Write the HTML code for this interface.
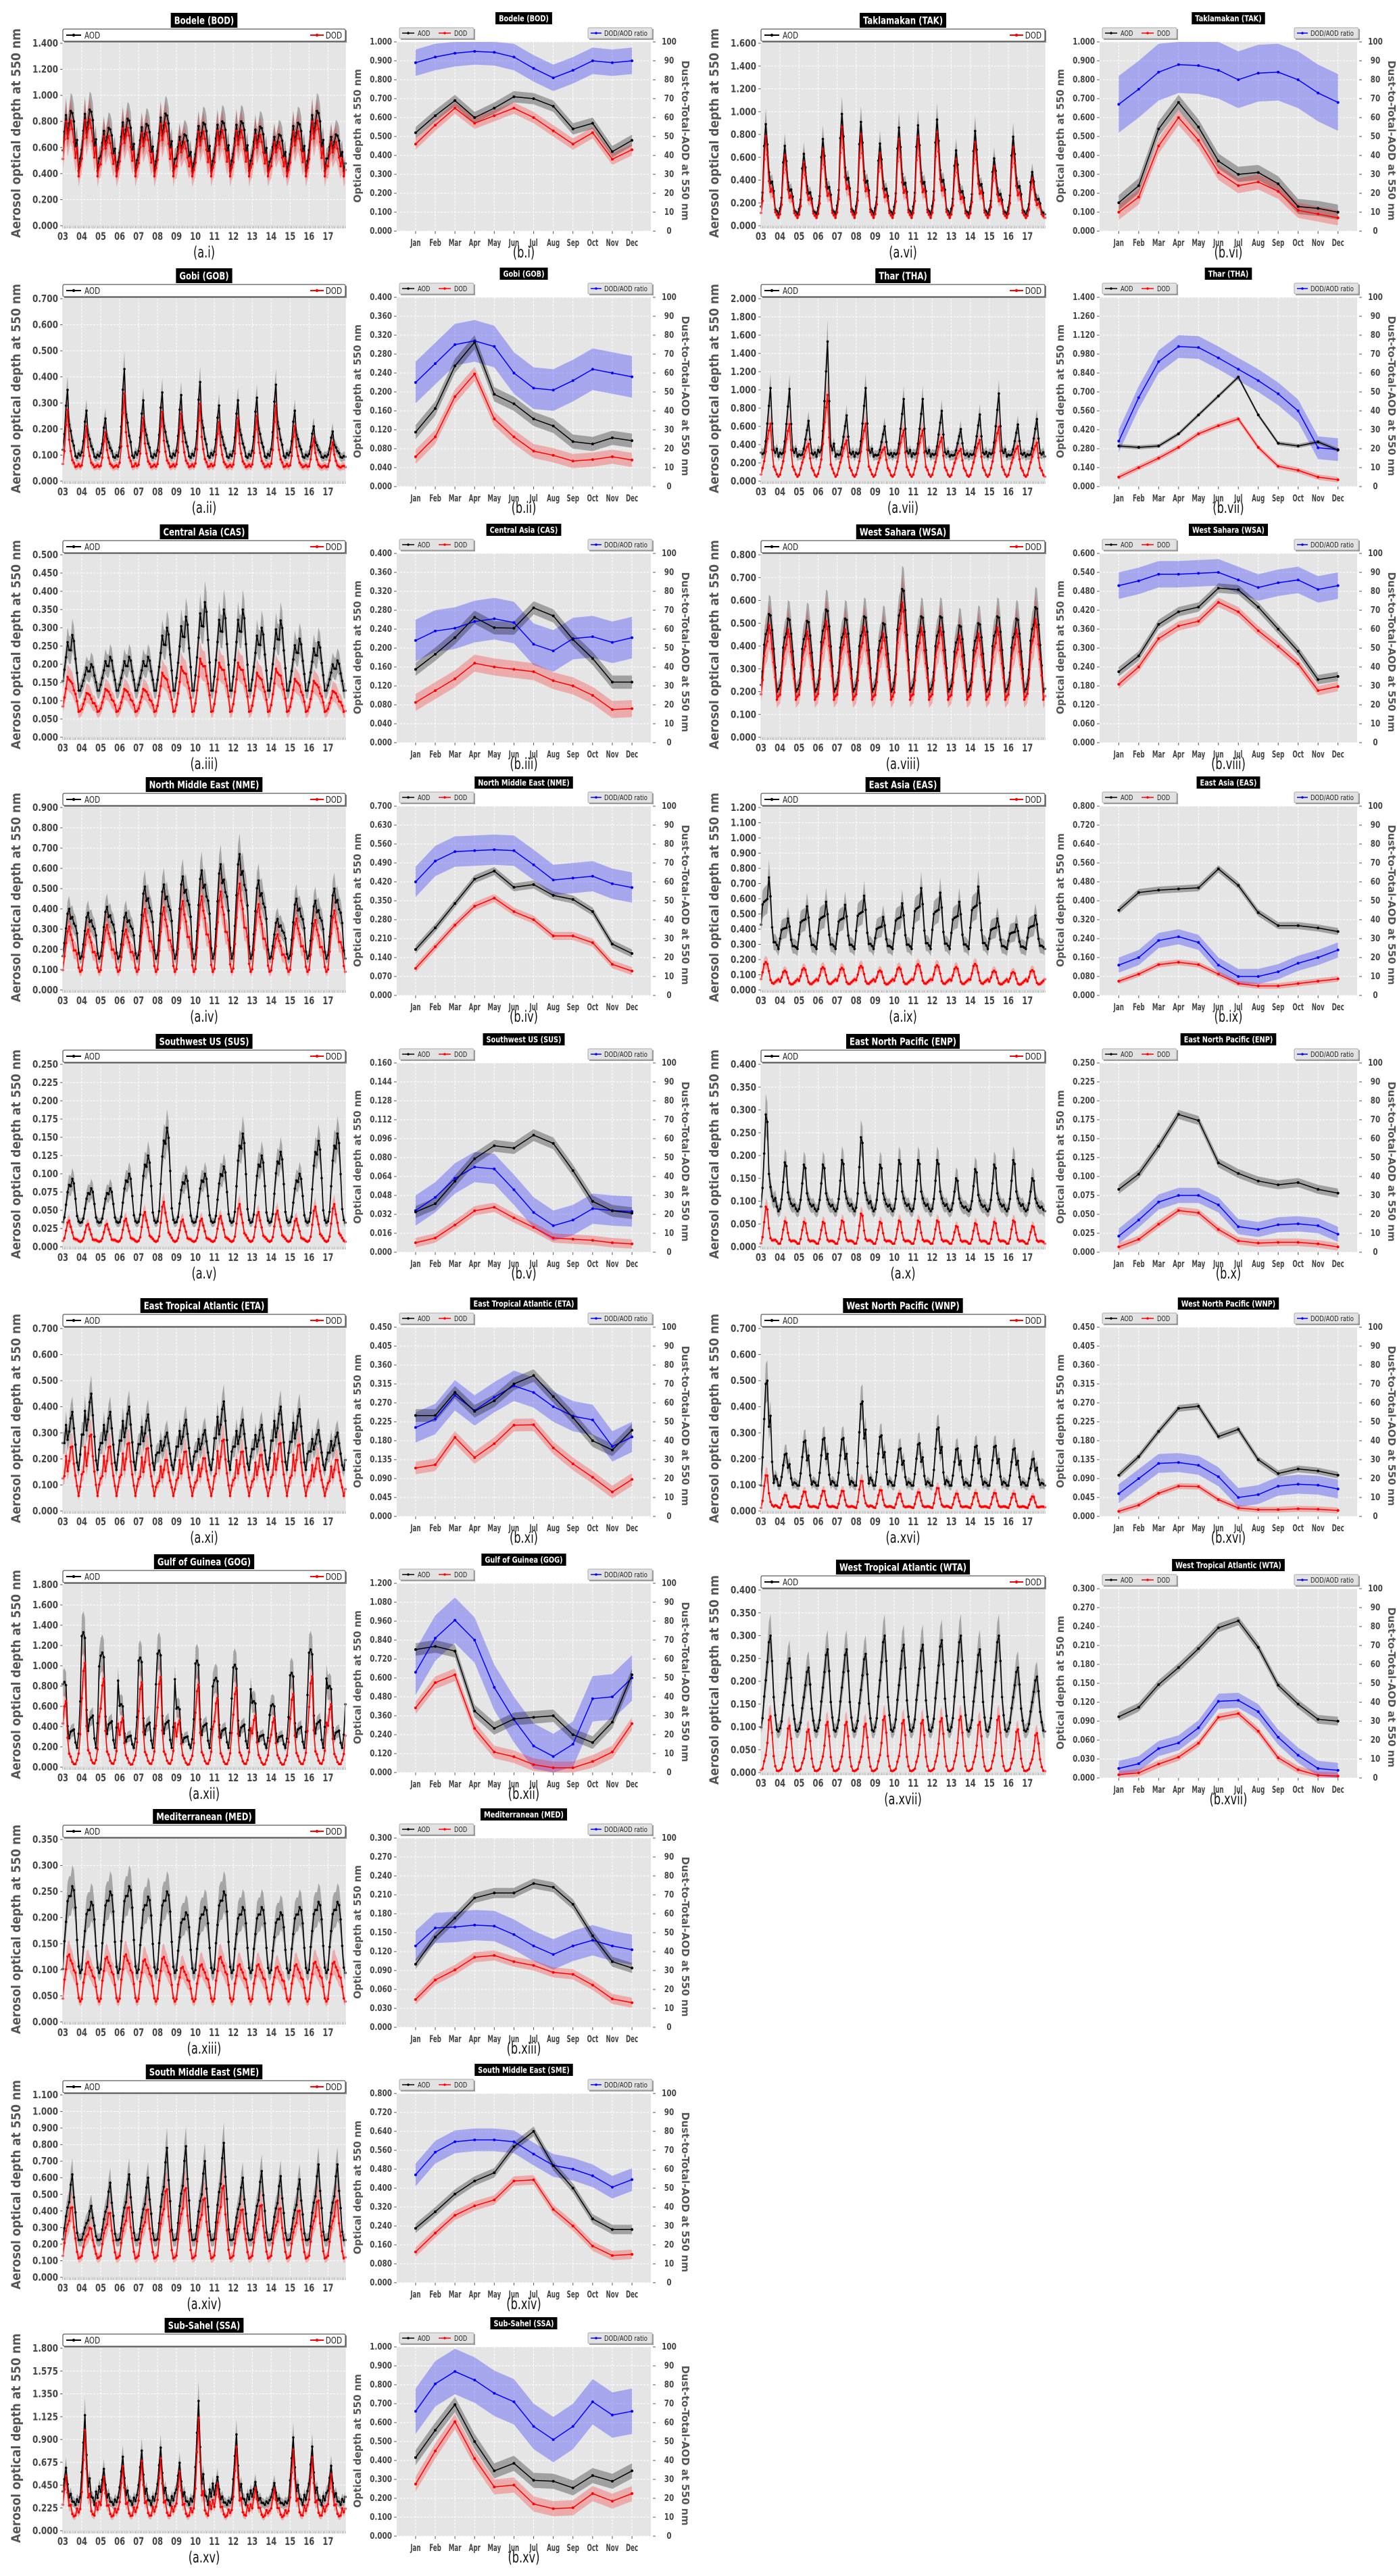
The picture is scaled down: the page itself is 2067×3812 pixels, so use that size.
<!DOCTYPE html>
<html><head><meta charset="utf-8"><style>
html,body{margin:0;padding:0;background:#fff;}
svg{display:block;font-family:"DejaVu Sans","Liberation Sans",sans-serif;}
</style></head><body>
<svg id="fig" xmlns="http://www.w3.org/2000/svg" width="2067" height="3812" viewBox="0 0 2067 3812"><rect width="2067" height="3812" fill="#fff"/></svg>
<script>
const months = ["Jan","Feb","Mar","Apr","May","Jun","Jul","Aug","Sep","Oct","Nov","Dec"];
const yearLabels = ["03","04","05","06","07","08","09","10","11","12","13","14","15","16","17"];
const ratioTicks = [0,10,20,30,40,50,60,70,80,90,100];

const bodAod=[.52,.61,.69,.60,.65,.71,.70,.66,.54,.57,.42,.48];
const bodDod=[.46,.56,.65,.57,.61,.65,.60,.53,.46,.52,.38,.43];
const bodRat=[89,92,94,95,94.5,92,86,81,85,90,89,90];
const bodPeaks=[.88,.89,.75,.82,.78,.86,.70,.79,.80,.80,.76,.70,.79,.88,.70];

const takAod=[.15,.24,.54,.68,.55,.37,.30,.31,.25,.13,.12,.10];
const takDod=[.10,.18,.45,.60,.48,.31,.24,.26,.21,.11,.09,.07];
const takRat=[67,75,84,88,87.5,85,80,83.5,84,80,73,68];
const takPeaks=[.89,.70,.63,.76,.98,.91,.72,.86,.88,.93,.66,.83,.59,.78,.47];

const gobAod=[.115,.165,.255,.305,.195,.175,.143,.128,.095,.090,.103,.097];
const gobDod=[.063,.105,.19,.238,.143,.105,.075,.066,.054,.057,.063,.056];
const gobRat=[55,65,75,77,74,60,52,51,56,62,60,58];
const gobPeaks=[.35,.27,.24,.43,.31,.34,.33,.38,.29,.31,.32,.37,.27,.21,.19];

const thaAod=[.30,.29,.30,.39,.53,.67,.81,.53,.32,.30,.33,.27];
const thaDod=[.07,.14,.21,.29,.39,.45,.50,.29,.15,.12,.07,.05];
const thaRat=[24,47,66,74,73.5,68,62,56,49,40,20.5,19.5];
const thaPeaks=[1.02,1.01,.66,1.53,.72,1.02,.60,.90,.90,.77,.57,.73,.96,.62,.68];

const casAod=[.155,.187,.222,.265,.243,.242,.285,.268,.218,.178,.128,.128];
const casDod=[.085,.11,.135,.168,.16,.155,.15,.131,.12,.10,.07,.072];
const casRat=[54,59,60.5,64,65.5,63.5,52,48.5,55,56,53,55.5];
const casPeaks=[.28,.20,.22,.22,.22,.30,.33,.37,.35,.35,.30,.32,.27,.26,.21];

const wsaAod=[.225,.275,.375,.415,.43,.49,.485,.43,.36,.29,.20,.21];
const wsaDod=[.185,.24,.33,.37,.385,.445,.415,.355,.305,.25,.165,.178];
const wsaRat=[83,85.5,89,89,89.5,90,86,82,84.5,86,81,83];
const wsaPeaks=[.54,.52,.51,.56,.52,.53,.50,.65,.53,.53,.49,.50,.53,.52,.57];

const nmeAod=[.17,.25,.34,.43,.46,.40,.41,.37,.355,.31,.19,.155];
const nmeDod=[.10,.18,.26,.33,.36,.31,.28,.22,.22,.195,.115,.09];
const nmeRat=[60,71,76,76.5,77,76.5,69,61,62,63,59,57];
const nmePeaks=[.40,.38,.41,.38,.51,.52,.56,.59,.62,.67,.54,.35,.45,.44,.50];

const easAod=[.36,.435,.445,.45,.455,.535,.465,.35,.295,.295,.285,.27];
const easDod=[.06,.09,.13,.14,.13,.09,.05,.04,.04,.05,.06,.07];
const easRat=[16,20,29,31,28,16,10,10,12.5,17,20,24];
const easPeaks=[.74,.47,.55,.58,.56,.62,.48,.57,.67,.64,.58,.68,.47,.43,.49];

const susAod=[.034,.041,.06,.079,.09,.088,.099,.092,.069,.043,.035,.033];
const susDod=[.008,.012,.023,.035,.038,.029,.021,.012,.011,.010,.008,.007];
const susRat=[22,29,39,45,44,33,21,14,17,23,22,21.5];
const susPeaks=[.093,.08,.08,.10,.125,.163,.097,.10,.11,.155,.125,.13,.10,.145,.155];

const enpAod=[.083,.103,.14,.182,.174,.118,.104,.094,.089,.092,.083,.078];
const enpDod=[.007,.017,.037,.055,.052,.030,.015,.012,.013,.013,.011,.007];
const enpRat=[8.5,17,26.5,30,30,25,13.5,12,14.5,15,14,9.5];
const enpPeaks=[.29,.185,.18,.18,.19,.24,.18,.19,.19,.19,.15,.17,.18,.19,.15];

const etaAod=[.24,.24,.295,.25,.275,.315,.335,.285,.235,.18,.158,.205];
const etaDod=[.115,.123,.188,.14,.173,.217,.218,.163,.125,.093,.058,.088];
const etaRat=[47,51.5,64,56,63,69,65.5,58,53,51,37,42];
const etaPeaks=[.38,.45,.38,.40,.37,.30,.35,.31,.42,.35,.33,.40,.39,.31,.30];

const gogAod=[.78,.80,.77,.39,.28,.34,.35,.36,.24,.19,.32,.62];
const gogDod=[.41,.57,.62,.28,.13,.10,.05,.03,.03,.07,.13,.31];
const gogRat=[53,71,80.5,70,45,28,14,8.5,15,39,40,50];
const gogPeaks=[.84,1.33,1.13,.62,1.08,1.15,.59,1.05,.88,1.01,.65,.62,.93,1.16,.80];

const wnpAod=[.098,.142,.202,.257,.262,.19,.207,.135,.102,.113,.108,.098];
const wnpDod=[.012,.027,.055,.072,.071,.040,.020,.016,.016,.018,.017,.014];
const wnpRat=[12,20,28,28.5,27,21,10,11.5,16,17,16.5,14.5];
const wnpPeaks=[.50,.22,.27,.28,.28,.42,.29,.24,.26,.32,.24,.25,.25,.24,.20];

const wtaAod=[.097,.112,.148,.175,.205,.238,.249,.207,.147,.117,.093,.09];
const wtaDod=[.005,.008,.022,.033,.055,.096,.102,.074,.032,.013,.004,.003];
const wtaRat=[5,7.5,15.5,18.5,26.5,40.5,41,35,21.5,12,5,4];
const wtaPeaks=[.30,.25,.23,.27,.27,.26,.30,.28,.28,.29,.30,.27,.30,.23,.21];

const medAod=[.10,.143,.173,.205,.213,.213,.228,.222,.195,.145,.104,.094];
const medDod=[.044,.075,.091,.111,.114,.104,.098,.087,.084,.067,.045,.039];
const medRat=[43,52.5,53,54,53.5,49,43,38.5,43,46,43,41];
const medPeaks=[.26,.23,.25,.26,.24,.25,.21,.22,.25,.22,.22,.21,.22,.23,.23];

const smeAod=[.23,.30,.375,.43,.465,.575,.64,.495,.40,.27,.225,.225];
const smeDod=[.13,.21,.285,.325,.35,.43,.435,.31,.24,.155,.115,.12];
const smeRat=[57,69,74.5,75.5,75.5,74.5,68,62,60,56.5,50.5,54.5];
const smePeaks=[.62,.43,.57,.62,.60,.78,.79,.70,.81,.60,.64,.61,.59,.68,.68];

const ssaAod=[.415,.56,.695,.50,.345,.385,.295,.29,.255,.32,.29,.345];
const ssaDod=[.275,.45,.605,.41,.26,.27,.17,.145,.15,.225,.185,.225];
const ssaRat=[66,80.5,87,82.5,75.5,71,58,51,58,71,64,66];
const ssaPeaks=[.62,1.14,.61,.73,.79,.82,.67,1.28,.53,.95,.48,.47,.92,.83,.64];

const panels=[
 {t:"Bodele (BOD)",id:"bod",n:"i",col:0,top:64,aMax:1.4,aStep:.2,bMax:1,bStep:.1,aod:bodAod,dod:bodDod,rat:bodRat,pk:bodPeaks,aw:.03,dw:.03,rw:7},
 {t:"Gobi (GOB)",id:"gob",n:"ii",col:0,top:442,aMax:.7,aStep:.1,bMax:.4,bStep:.04,aod:gobAod,dod:gobDod,rat:gobRat,pk:gobPeaks,aw:.015,dw:.015,rw:11},
 {t:"Central Asia (CAS)",id:"cas",n:"iii",col:0,top:821,aMax:.5,aStep:.05,bMax:.4,bStep:.04,aod:casAod,dod:casDod,rat:casRat,pk:casPeaks,aw:.014,dw:.018,rw:11},
 {t:"North Middle East (NME)",id:"nme",n:"iv",col:0,top:1195,aMax:.9,aStep:.1,bMax:.7,bStep:.07,aod:nmeAod,dod:nmeDod,rat:nmeRat,pk:nmePeaks,aw:.015,dw:.015,rw:8},
 {t:"Southwest US (SUS)",id:"sus",n:"v",col:0,top:1575,aMax:.25,aStep:.025,bMax:.16,bStep:.016,aod:susAod,dod:susDod,rat:susRat,pk:susPeaks,aw:.005,dw:.004,rw:8},
 {t:"East Tropical Atlantic (ETA)",id:"eta",n:"xi",col:0,top:1966,aMax:.7,aStep:.1,bMax:.45,bStep:.045,aod:etaAod,dod:etaDod,rat:etaRat,pk:etaPeaks,aw:.015,dw:.015,rw:8},
 {t:"Gulf of Guinea (GOG)",id:"gog",n:"xii",col:0,top:2345,aMax:1.8,aStep:.2,bMax:1.2,bStep:.12,aod:gogAod,dod:gogDod,rat:gogRat,pk:gogPeaks,aw:.04,dw:.04,rw:12},
 {t:"Mediterranean (MED)",id:"med",n:"xiii",col:0,top:2722,aMax:.35,aStep:.05,bMax:.3,bStep:.03,aod:medAod,dod:medDod,rat:medRat,pk:medPeaks,aw:.008,dw:.008,rw:8},
 {t:"South Middle East (SME)",id:"sme",n:"xiv",col:0,top:3100,aMax:1.1,aStep:.1,bMax:.8,bStep:.08,aod:smeAod,dod:smeDod,rat:smeRat,pk:smePeaks,aw:.02,dw:.02,rw:6},
 {t:"Sub-Sahel (SSA)",id:"ssa",n:"xv",col:0,top:3475,aMax:1.8,aStep:.225,bMax:1,bStep:.1,aod:ssaAod,dod:ssaDod,rat:ssaRat,pk:ssaPeaks,aw:.04,dw:.04,rw:12},
 {t:"Taklamakan (TAK)",id:"tak",n:"vi",col:1,top:64,aMax:1.6,aStep:.2,bMax:1,bStep:.1,aod:takAod,dod:takDod,rat:takRat,pk:takPeaks,aw:.04,dw:.04,rw:15},
 {t:"Thar (THA)",id:"tha",n:"vii",col:1,top:442,aMax:2,aStep:.2,bMax:1.4,bStep:.14,aod:thaAod,dod:thaDod,rat:thaRat,pk:thaPeaks,aw:.015,dw:.02,rw:6},
 {t:"West Sahara (WSA)",id:"wsa",n:"viii",col:1,top:821,aMax:.8,aStep:.1,bMax:.6,bStep:.06,aod:wsaAod,dod:wsaDod,rat:wsaRat,pk:wsaPeaks,aw:.015,dw:.015,rw:7},
 {t:"East Asia (EAS)",id:"eas",n:"ix",col:1,top:1195,aMax:1.2,aStep:.1,bMax:.8,bStep:.08,aod:easAod,dod:easDod,rat:easRat,pk:easPeaks,aw:.015,dw:.012,rw:4},
 {t:"East North Pacific (ENP)",id:"enp",n:"x",col:1,top:1575,aMax:.4,aStep:.05,bMax:.25,bStep:.025,aod:enpAod,dod:enpDod,rat:enpRat,pk:enpPeaks,aw:.006,dw:.005,rw:4},
 {t:"West North Pacific (WNP)",id:"wnp",n:"xvi",col:1,top:1966,aMax:.7,aStep:.1,bMax:.45,bStep:.045,aod:wnpAod,dod:wnpDod,rat:wnpRat,pk:wnpPeaks,aw:.008,dw:.007,rw:5},
 {t:"West Tropical Atlantic (WTA)",id:"wta",n:"xvii",col:1,top:2353,aMax:.4,aStep:.05,bMax:.3,bStep:.03,aod:wtaAod,dod:wtaDod,rat:wtaRat,pk:wtaPeaks,aw:.007,dw:.006,rw:4}
];

const NS="http://www.w3.org/2000/svg";
const fig=document.getElementById("fig");
function el(tag,attrs,parent,txt){const e=document.createElementNS(NS,tag);for(const k in attrs)e.setAttribute(k,attrs[k]);if(txt!==undefined)e.textContent=txt;(parent||fig).appendChild(e);return e;}
function pts(xs,ys){return xs.map((x,i)=>x.toFixed(1)+","+ys[i].toFixed(1)).join(" ");}
function narrow(t,f){const w=t.getComputedTextLength();t.setAttribute("textLength",(w*f).toFixed(1));t.setAttribute("lengthAdjust","spacingAndGlyphs");return w*f;}

function titleBox(g,cx,y,h,txt,fs){
  const r=el("rect",{x:cx-50,y:y,width:100,height:h,fill:"#000"},g);
  
  
  const t=el("text",{x:cx,y:y+h/2+fs*0.37,"text-anchor":"middle","font-weight":"bold","font-size":fs,fill:"#fff"},g,txt);
  
  
  const w=narrow(t,0.78)+10;
  r.setAttribute("x",cx-w/2);r.setAttribute("width",w);
}

function drawA(p){
  const g=el("g",{});
  
  
  const L=p.col?1126:93, W=p.col?420:418, T=p.top, H=270;
  const xs=i=>L+i/179*W, ys=v=>T+H-Math.min(v,p.aMax*1.05)/p.aMax*H;
  const bg=el("rect",{x:L,y:T,width:W,height:H,fill:"#e5e5e5"},g);
  
  
  const nt=Math.round(p.aMax/p.aStep);
  for(let k=0;k<=nt;k++){
    const v=k*p.aStep, y=ys(v);
    el("line",{x1:L,x2:L+W,y1:y,y2:y,stroke:"#fff","stroke-dasharray":"3,2","stroke-width":1},g);
    el("line",{x1:L-4,x2:L,y1:y,y2:y,stroke:"#555"},g);
    const t=el("text",{x:L-7,y:y+5,"text-anchor":"end","font-size":15,"font-weight":"bold",fill:"#444"},g,v.toFixed(3));
    
    
    narrow(t,0.8);
  }
  yearLabels.forEach((lab,k)=>{
    const x=xs(k*12);
    el("line",{x1:x,x2:x,y1:T,y2:T+H,stroke:"#fff","stroke-dasharray":"3,2"},g);
    const t=el("text",{x:x,y:T+H+21,"text-anchor":"middle","font-size":16,"font-weight":"bold",fill:"#444"},g,lab);
    
    
    narrow(t,0.72);
  });
  for(let i=0;i<180;i++){const x=xs(i);el("line",{x1:x,x2:x,y1:T+H,y2:T+H+4,stroke:"#777","stroke-width":0.7},g);}
  const aMin=Math.min(...p.aod), aMx=Math.max(...p.aod);
  const aod=[],dod=[];
  for(let y=0;y<15;y++)for(let m=0;m<12;m++){
    const v=aMin+(p.aod[m]-aMin)*(p.pk[y]-aMin)/(aMx-aMin);
    aod.push(v);dod.push(v*p.dod[m]/p.aod[m]);
  }
  const X=aod.map((_,i)=>xs(i));
  function band(vals,frac,fill,name){
    const up=vals.map(v=>ys(v*(1+frac)+0.005*p.aMax)), lo=vals.map(v=>ys(Math.max(0,v*(1-frac)-0.005*p.aMax)));
    const b=el("polygon",{points:pts(X,up)+" "+pts(X.slice().reverse(),lo.slice().reverse()),fill:fill},g);
    
    
  }
  band(aod,0.15,"rgba(0,0,0,0.28)","aod-band");
  band(dod,0.2,"rgba(255,0,0,0.25)","dod-band");
  function line(vals,col,name){
    const l=el("polyline",{points:pts(X,vals.map(ys)),fill:"none",stroke:col,"stroke-width":1.6},g);
    
    
    vals.forEach((v,i)=>el("circle",{cx:X[i],cy:ys(v),r:1.8,fill:col},g));
  }
  line(aod,"#000","aod-line");
  line(dod,"#f00","dod-line");
  el("rect",{x:L,y:T,width:W,height:H,fill:"none",stroke:"#ddd"},g);
  el("rect",{x:L+2,y:T-19,width:W,height:18,fill:"#888"},g);
  const lg=el("rect",{x:L,y:T-21,width:W,height:18,fill:"#fff",stroke:"#333","stroke-width":1,rx:2},g);
  
  
  el("line",{x1:L+5,x2:L+27,y1:T-12,y2:T-12,stroke:"#000","stroke-width":2},g);
  el("circle",{cx:L+16,cy:T-12,r:2.2,fill:"#000"},g);
  const t1=el("text",{x:L+32,y:T-7,"font-size":13,fill:"#222"},g,"AOD");narrow(t1,0.8);
  el("line",{x1:L+W-52,x2:L+W-32,y1:T-12,y2:T-12,stroke:"#f00","stroke-width":2},g);
  el("circle",{cx:L+W-42,cy:T-12,r:2.2,fill:"#f00"},g);
  const t2=el("text",{x:L+W-5,y:T-7,"font-size":13,"text-anchor":"end",fill:"#222"},g,"DOD");narrow(t2,0.8);
  titleBox(g,L+W/2,T-45,22,p.t,15);
  const yl=el("text",{x:0,y:0,transform:`translate(${L-63},${T+133}) rotate(-90)`,"text-anchor":"middle","font-size":19,"font-weight":"bold",fill:"#555",textLength:310,lengthAdjust:"spacingAndGlyphs"},g,"Aerosol optical depth at 550 nm");
  
  
  const cap=el("text",{x:L+W/2,y:T+317,"text-anchor":"middle","font-size":23,fill:"#111"},g,"(a."+p.n+")");
  
  
  narrow(cap,0.7);
}

function drawB(p){
  const g=el("g",{});
  
  
  const L=p.col?1627:587, W=p.col?381:376, T=p.top-2, H=280;
  const xs=m=>L+(m+0.96)/12.92*W, ys=v=>T+H-Math.min(v,p.bMax)/p.bMax*H, yr=r=>T+H-Math.min(r,100)/100*H;
  const bg=el("rect",{x:L,y:T,width:W,height:H,fill:"#e5e5e5"},g);
  
  
  const nt=Math.round(p.bMax/p.bStep);
  for(let k=0;k<=nt;k++){
    const v=k*p.bStep,y=ys(v);
    el("line",{x1:L,x2:L+W,y1:y,y2:y,stroke:"#fff","stroke-dasharray":"3,2"},g);
    el("line",{x1:L-4,x2:L,y1:y,y2:y,stroke:"#555"},g);
    const t=el("text",{x:L-7,y:y+4,"text-anchor":"end","font-size":13,"font-weight":"bold",fill:"#444"},g,v.toFixed(3));
    
    
    narrow(t,0.8);
  }
  ratioTicks.forEach(r=>{
    const y=yr(r);
    el("line",{x1:L+W+3,x2:L+W+7,y1:y,y2:y,stroke:"#555"},g);
    const t=el("text",{x:L+W+27,y:y+4,"text-anchor":"middle","font-size":13,"font-weight":"bold",fill:"#444"},g,String(r));
    
    
    narrow(t,0.8);
  });
  months.forEach((mn,m)=>{
    const x=xs(m);
    el("line",{x1:x,x2:x,y1:T,y2:T+H,stroke:"#fff","stroke-dasharray":"3,2"},g);
    el("line",{x1:x,x2:x,y1:T+H,y2:T+H+4,stroke:"#555"},g);
    const t=el("text",{x:x,y:T+H+22,"text-anchor":"middle","font-size":14,"font-weight":"bold",fill:"#444"},g,mn);
    
    
    narrow(t,0.62);
  });
  const X=months.map((_,m)=>xs(m));
  function band(up,lo,fill,name){
    const b=el("polygon",{points:pts(X,up)+" "+pts(X.slice().reverse(),lo.slice().reverse()),fill:fill},g);
    
    
  }
  band(p.rat.map(r=>yr(r+p.rw)),p.rat.map(r=>yr(Math.max(0,r-p.rw))),"rgba(40,40,255,0.33)","ratio-band");
  band(p.aod.map(v=>ys(v+p.aw)),p.aod.map(v=>ys(Math.max(0,v-p.aw))),"rgba(0,0,0,0.3)","aod-band");
  band(p.dod.map(v=>ys(v+p.dw)),p.dod.map(v=>ys(Math.max(0,v-p.dw))),"rgba(255,0,0,0.25)","dod-band");
  function line(Y,col,name){
    const l=el("polyline",{points:pts(X,Y),fill:"none",stroke:col,"stroke-width":1.5},g);
    
    
    Y.forEach((y,i)=>el("circle",{cx:X[i],cy:y,r:2,fill:col},g));
  }
  line(p.rat.map(yr),"#00f","ratio-line");
  line(p.aod.map(ys),"#000","aod-line");
  line(p.dod.map(ys),"#f00","dod-line");
  el("rect",{x:L+6,y:T-19,width:110,height:16,fill:"#999"},g);
  const lg=el("rect",{x:L+4,y:T-21,width:110,height:16,fill:"#e2e2e2",stroke:"#aaa",rx:2},g);
  
  
  el("line",{x1:L+8,x2:L+26,y1:T-13,y2:T-13,stroke:"#000","stroke-width":1.5},g);
  el("circle",{cx:L+17,cy:T-13,r:1.8,fill:"#000"},g);
  const a1=el("text",{x:L+31,y:T-9,"font-size":11,fill:"#222"},g,"AOD");narrow(a1,0.75);
  el("line",{x1:L+62,x2:L+80,y1:T-13,y2:T-13,stroke:"#f00","stroke-width":1.5},g);
  el("circle",{cx:L+71,cy:T-13,r:1.8,fill:"#f00"},g);
  const a2=el("text",{x:L+85,y:T-9,"font-size":11,fill:"#222"},g,"DOD");narrow(a2,0.75);
  el("rect",{x:L+W-91,y:T-19,width:95,height:16,fill:"#999"},g);
  const lg2=el("rect",{x:L+W-93,y:T-21,width:95,height:16,fill:"#e2e2e2",stroke:"#aaa",rx:2},g);
  
  
  el("line",{x1:L+W-89,x2:L+W-73,y1:T-13,y2:T-13,stroke:"#00f","stroke-width":1.5},g);
  el("circle",{cx:L+W-81,cy:T-13,r:1.8,fill:"#00f"},g);
  const a3=el("text",{x:L+W-69,y:T-9,"font-size":11,fill:"#222"},g,"DOD/AOD ratio");
  a3.setAttribute("textLength",64);a3.setAttribute("lengthAdjust","spacingAndGlyphs");
  titleBox(g,L+W/2,T-44,18,p.t,12.5);
  const yl=el("text",{x:0,y:0,transform:`translate(${L-53},${T+139}) rotate(-90)`,"text-anchor":"middle","font-size":15,"font-weight":"bold",fill:"#555",textLength:198,lengthAdjust:"spacingAndGlyphs"},g,"Optical depth at 550 nm");
  
  
  const yr2=el("text",{x:0,y:0,transform:`translate(${L+W+46},${T+146}) rotate(90)`,"text-anchor":"middle","font-size":15,"font-weight":"bold",fill:"#555",textLength:237,lengthAdjust:"spacingAndGlyphs"},g,"Dust-to-Total-AOD at 550 nm");
  
  
  const cap=el("text",{x:L+W/2,y:T+319,"text-anchor":"middle","font-size":23,fill:"#111"},g,"(b."+p.n+")");
  
  
  narrow(cap,0.7);
}
panels.forEach(p=>{drawA(p);drawB(p);});
</script>
</body></html>
